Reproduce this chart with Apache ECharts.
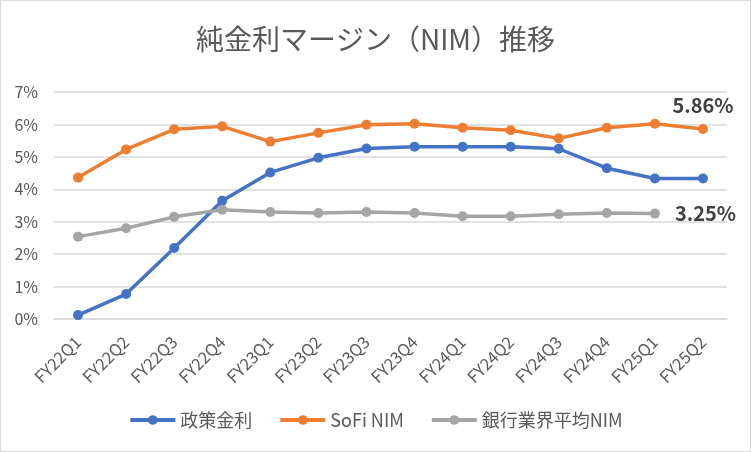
<!DOCTYPE html>
<html>
<head>
<meta charset="utf-8">
<script src="https://cdn.jsdelivr.net/npm/echarts@6/dist/echarts.min.js"></script>
<style>
html,body{margin:0;padding:0;background:#fff;}
#main{width:751px;height:452px;box-sizing:border-box;border:1px solid #d9d9d9;}
</style>
</head>
<body>
<div id="main"></div>
<script>
const categories = ['FY22Q1','FY22Q2','FY22Q3','FY22Q4','FY23Q1','FY23Q2','FY23Q3','FY23Q4','FY24Q1','FY24Q2','FY24Q3','FY24Q4','FY25Q1','FY25Q2'];
const policyRate = [0.12, 0.77, 2.19, 3.65, 4.52, 4.97, 5.26, 5.31, 5.31, 5.31, 5.25, 4.65, 4.33, 4.33];
const sofiNim = [4.36, 5.23, 5.85, 5.94, 5.47, 5.74, 5.99, 6.02, 5.90, 5.82, 5.57, 5.90, 6.02, 5.86];
const bankAvgNim = [2.54, 2.80, 3.15, 3.37, 3.30, 3.27, 3.30, 3.27, 3.17, 3.17, 3.23, 3.27, 3.25, null];
const seriesNames = ['政策金利', 'SoFi NIM', '銀行業界平均NIM'];
const yTicks = [0, 1, 2, 3, 4, 5, 6, 7];

const font = '"Noto Sans CJK JP", "Noto Sans", sans-serif';
const txt = '#595959';

function withEndLabel(arr, idx, pos, offset) {
  return arr.map((v, i) => i === idx ? {
    value: v,
    label: {
      show: true, position: pos, offset: offset,
      formatter: p => p.value.toFixed(2) + '%',
      fontSize: 20, fontWeight: 'bold', color: '#404040', fontFamily: font
    }
  } : v);
}

const chart = echarts.init(document.getElementById('main'));
const lineCommon = { type: 'line', symbol: 'circle', symbolSize: 10, lineStyle: { width: 3.5 }, animation: false };
chart.setOption({
  animation: false,
  title: {
    text: '純金利マージン（NIM）推移',
    left: 'center', top: 19,
    textStyle: { fontFamily: font, fontSize: 28, fontWeight: 'normal', color: txt }
  },
  legend: {
    bottom: 17, left: 'center',
    itemWidth: 45, itemHeight: 12, itemGap: 26,
    lineStyle: { width: 4 },
    textStyle: { fontFamily: font, fontSize: 18, color: txt },
    data: seriesNames
  },
  grid: { left: 53, right: 23, top: 91, bottom: 132, containLabel: false },
  xAxis: {
    type: 'category', data: categories, boundaryGap: true,
    axisLine: { show: true, lineStyle: { color: '#d9d9d9', width: 1.5 } },
    axisTick: { show: false },
    axisLabel: { rotate: 45, fontSize: 16.5, color: txt, fontFamily: font, margin: 20, interval: 0 }
  },
  yAxis: {
    type: 'value', min: yTicks[0], max: yTicks[yTicks.length - 1], interval: 1,
    axisLine: { show: false }, axisTick: { show: false },
    axisLabel: { formatter: v => v + '%', fontSize: 16, color: txt, fontFamily: font, margin: 16 },
    splitLine: { lineStyle: { color: '#d9d9d9', width: 1.5 } }
  },
  series: [
    Object.assign({}, lineCommon, { name: seriesNames[0], data: policyRate, color: '#4472C4' }),
    Object.assign({}, lineCommon, { name: seriesNames[1], data: withEndLabel(sofiNim, 13, 'top', [0, -4]), color: '#ED7D31' }),
    Object.assign({}, lineCommon, { name: seriesNames[2], data: withEndLabel(bankAvgNim, 12, 'right', [10, 0]), color: '#A5A5A5' })
  ]
});
</script>
</body>
</html>
